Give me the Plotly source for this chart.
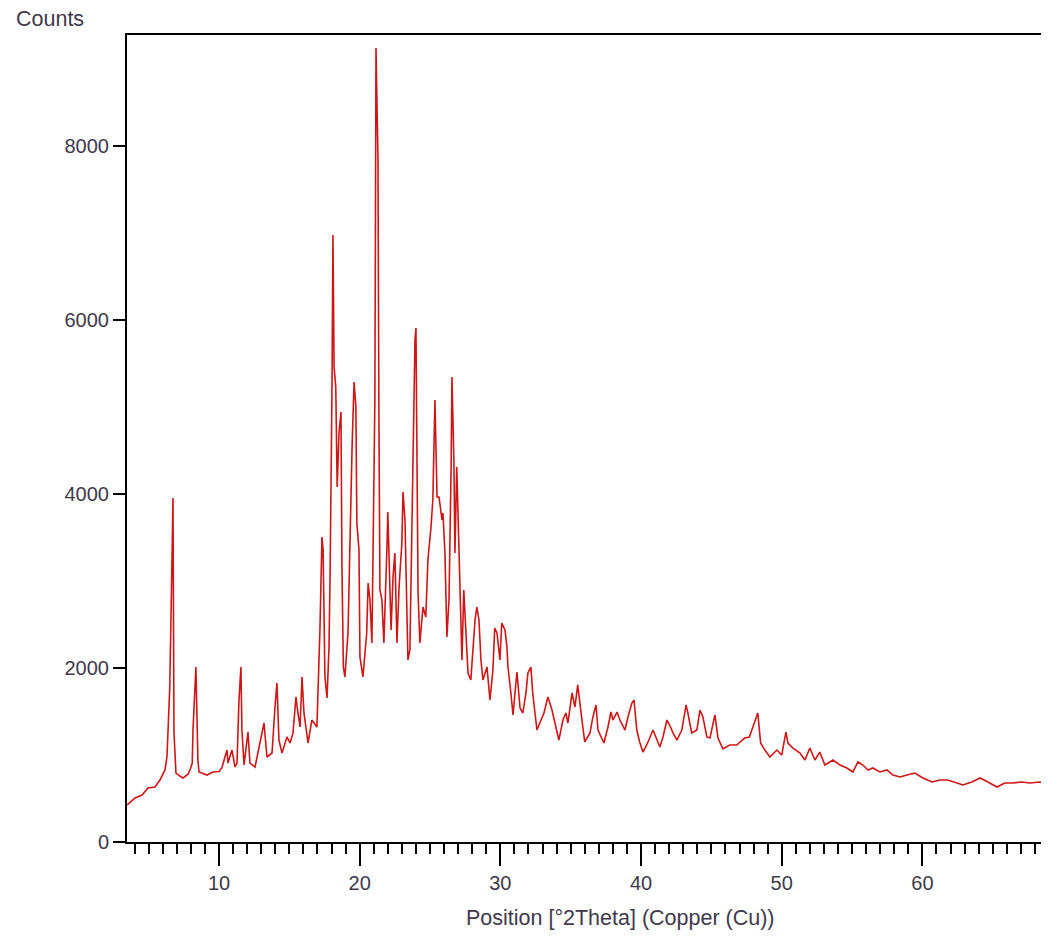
import plotly.graph_objects as go

# ---- data ----
two_theta = [
    3.46, 4.03, 4.53, 4.95, 5.45, 5.8, 6.16, 6.3, 6.37, 6.5, 6.66, 6.73, 6.8, 6.94, 7.2, 7.44,
    7.8, 7.94, 8.1, 8.15, 8.36, 8.5, 8.58, 8.9, 9.15, 9.57, 10.0, 10.2, 10.43, 10.57, 10.64,
    10.92, 11.14, 11.28, 11.42, 11.56,
    11.63, 11.78, 12.06, 12.2, 12.56, 13.06, 13.2, 13.41, 13.77, 13.98, 14.12, 14.26, 14.48,
    14.83, 15.05, 15.26, 15.47, 15.61, 15.76, 15.9, 16.04, 16.33, 16.6, 16.96, 17.03, 17.18,
    17.32, 17.4, 17.53, 17.68, 17.82, 17.9, 18.03, 18.1, 18.18, 18.3, 18.4, 18.53, 18.67,
    18.74, 18.84, 18.95, 19.17, 19.3, 19.46, 19.6, 19.73, 19.8, 19.95, 20.02, 20.23, 20.5,
    20.6, 20.73, 20.87, 20.95, 21.08, 21.16, 21.3, 21.37, 21.44, 21.58, 21.72, 21.94, 22.0,
    22.1, 22.23, 22.37, 22.5, 22.65, 22.8, 23.0, 23.08, 23.22, 23.3, 23.43, 23.57, 23.79,
    23.93, 24.0, 24.07, 24.15, 24.28, 24.5, 24.7, 24.85, 25.07, 25.2, 25.35, 25.5, 25.64,
    25.85, 25.92, 26.06, 26.2, 26.35, 26.5, 26.56, 26.7, 26.77, 26.9, 27.0, 27.13, 27.27,
    27.4, 27.55, 27.7, 27.9, 28.2, 28.33, 28.48, 28.62, 28.76, 29.05, 29.26, 29.47, 29.6,
    29.76, 29.97, 30.1, 30.33, 30.47, 30.54, 30.75, 30.9, 31.04, 31.18, 31.4, 31.6, 31.82,
    31.96, 32.17, 32.3, 32.6, 32.8, 33.1, 33.38, 33.67, 33.88, 34.16, 34.45, 34.66, 34.8,
    35.1, 35.3, 35.5, 35.8, 36.0, 36.37, 36.58, 36.8, 36.94, 37.36, 37.65, 37.86, 38.0,
    38.29, 38.5, 38.86, 39.07, 39.35, 39.5, 39.7, 39.9, 40.14, 40.5, 40.85, 41.13, 41.34,
    41.56, 41.84, 42.1, 42.27, 42.55, 42.9, 43.2, 43.33, 43.6, 43.97, 44.19, 44.4, 44.68,
    44.9, 45.25, 45.47, 45.82, 46.3, 46.8, 47.37, 47.7, 48.1, 48.3, 48.5, 48.8, 49.16,
    49.66, 50.0, 50.3, 50.44, 50.8, 51.3, 51.65, 52.0, 52.36, 52.7, 53.07, 53.64, 54.14,
    54.63, 55.06, 55.42, 55.77, 56.13, 56.48, 56.98, 57.48, 57.9, 58.4, 58.9, 59.47, 60.04,
    60.68, 61.25, 61.8, 62.46, 62.88, 63.52, 64.1, 64.66, 65.3, 65.86, 66.43, 67.07, 67.64,
    68.35, 68.9,
]
counts = [
    425, 506, 540, 620, 632, 713, 828, 977, 1253, 1782, 3276, 3954, 1253, 793, 760, 736,
    780, 828, 908, 1287, 2011, 942, 805, 780, 770, 805, 810, 851, 977, 1057, 908,
    1057, 862, 908, 1632, 2011,
    1287, 885, 1264, 908, 862, 1287, 1368, 977, 1023, 1552, 1828, 1172, 1023,
    1207, 1138, 1253, 1667, 1483, 1322, 1897, 1483, 1138, 1402, 1322, 1667, 2471,
    3506, 3356, 1897, 1655, 2241, 3126, 5195, 6977, 5460, 5230, 4080, 4701, 4943,
    3161, 2011, 1897, 2402, 3471, 4540, 5287, 5000, 3667, 3356, 2126, 1897, 2402,
    2977, 2782, 2287, 3322, 5080, 9126, 7862, 4828, 2897, 2782, 2287, 3391, 3793,
    3207, 2437, 3046, 3322, 2287, 2931, 3437, 4023, 3701, 3011, 2092, 2207, 4195,
    5770, 5908, 4195, 2862, 2287, 2701, 2586, 3241, 3620, 3931, 5080, 3966, 3966,
    3701, 3782, 3322, 2356, 2782, 4310, 5345, 4356, 3322, 4310, 3736, 2701, 2092,
    2897, 2437, 1943, 1862, 2552, 2701, 2552, 2092, 1862, 2011, 1632, 1977, 2460,
    2402, 2092, 2517, 2437, 2241, 2011, 1713, 1460, 1713, 1954, 1540, 1483, 1713,
    1943, 2011, 1713, 1287, 1368, 1483, 1667, 1517, 1368, 1172, 1402, 1483, 1368,
    1713, 1552, 1805, 1402, 1150, 1253, 1437, 1575, 1287, 1138, 1322, 1494, 1402,
    1494, 1402, 1287, 1437, 1598, 1632, 1287, 1150, 1034, 1150, 1287, 1172, 1092,
    1207, 1402, 1322, 1253, 1172, 1287, 1575, 1483, 1253, 1287, 1517, 1437, 1207,
    1195, 1460, 1195, 1070, 1115, 1115, 1195, 1207, 1380, 1483, 1138, 1057, 977,
    1057, 1000, 1264, 1138, 1080, 1023, 942, 1080, 942, 1034, 885, 942, 885,
    851, 805, 920, 885, 828, 851, 805, 828, 770, 747, 770, 793, 736,
    690, 713, 713, 678, 655, 690, 736, 690, 632, 678, 678, 690, 678,
    690, 655,
]
x_tick_vals = [10, 20, 30, 40, 50, 60]
y_tick_vals = [0, 2000, 4000, 6000, 8000]
x_title = "Position [°2Theta] (Copper (Cu))"
y_title = "Counts"

# page body has an 8px margin; size the figure so the plot lands where the reference has it
OFF = 8
W, H = 1049 - OFF, 939 - 2 * OFF
L, R, T = 127 - OFF, 0, 35 - OFF
B = H - (842 - OFF)
pw = W - L - R
ph = H - T - B
text_color = "#41394b"
font_family = "Liberation Sans, Arial, sans-serif"

fig = go.Figure()
fig.add_trace(go.Scatter(
    x=two_theta, y=counts, mode="lines",
    line=dict(color="#cf1616", width=1.6),
    hoverinfo="skip", showlegend=False,
))

fig.update_layout(
    width=W, height=H,
    margin=dict(l=L, r=R, t=T, b=B, pad=0),
    paper_bgcolor="white", plot_bgcolor="white",
    font=dict(family=font_family, size=20, color=text_color),
    xaxis=dict(
        range=[3.46, 69.0], tickmode="array", tickvals=x_tick_vals,
        ticks="outside", ticklen=22, tickwidth=1.5, tickcolor="black",
        showline=True, linecolor="black", linewidth=2, mirror=True,
        showgrid=False, zeroline=False,
        tickfont=dict(size=20, color=text_color),
        minor=dict(dtick=1, tick0=0, ticks="outside", ticklen=10,
                   tickwidth=1.5, tickcolor="black", showgrid=False),
    ),
    yaxis=dict(
        range=[0, 9276], tickmode="array", tickvals=y_tick_vals,
        ticks="outside", ticklen=12, tickwidth=1.5, tickcolor="black",
        showline=True, linecolor="black", linewidth=2,
        showgrid=False, zeroline=False,
        tickfont=dict(size=20, color=text_color),
    ),
    annotations=[
        dict(text=y_title, xref="paper", yref="paper",
             x=(14 - OFF - L) / pw, y=1 + (35 - 19) / ph,
             xanchor="left", yanchor="middle", showarrow=False,
             font=dict(size=21.5, color=text_color)),
        dict(text=x_title, xref="paper", yref="paper",
             x=(620 - OFF - L) / pw, y=-(918 - 842) / ph,
             xanchor="center", yanchor="middle", showarrow=False,
             font=dict(size=21.5, color=text_color)),
    ],
)

fig.write_html("out.html")
